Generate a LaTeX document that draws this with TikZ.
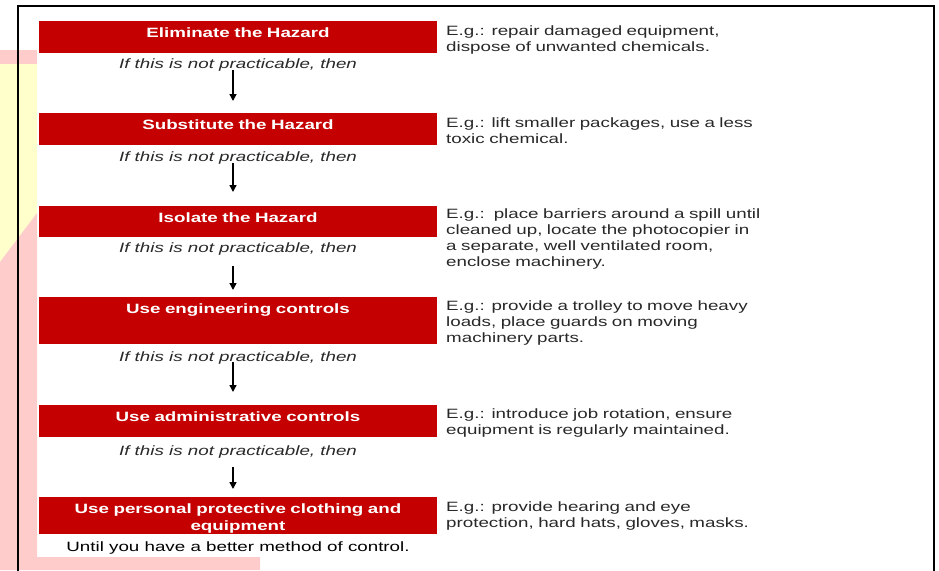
\documentclass[tikz,border=0pt]{standalone}
\usepackage{fontspec}
\setmainfont{Liberation Sans}[FakeStretch=1.39]
\usepackage{tikz}
\usetikzlibrary{arrows.meta}
\definecolor{hazred}{RGB}{196,0,0}
\definecolor{bgpink}{RGB}{255,204,204}
\definecolor{bgyellow}{RGB}{255,255,204}
\definecolor{txtgrey}{RGB}{40,40,40}
\newcommand{\ctrlfont}{\fontsize{13.5}{16}\selectfont}
\begin{document}
\begin{tikzpicture}[x=1pt,y=-1pt,
    hazbox/.style={fill=hazred, text=white, font=\ctrlfont\bfseries, text width=398pt,
      align=center, inner sep=0pt, text height=16pt, anchor=north},
    note/.style={font=\ctrlfont\itshape, text=txtgrey, inner sep=0pt, anchor=base},
    example/.style={font=\ctrlfont, text=txtgrey, text width=340pt, align=left,
      inner sep=0pt, anchor=base west},
    flow/.style={line width=1.4pt, -{Triangle[length=7pt,width=7pt]}}]
			\useasboundingbox (0,0) rectangle (939,570);
			\fill[bgpink] (0,50) rectangle (37,64);
			\fill[bgyellow] (0,64)--(37,64)--(37,213)--(0,262)--cycle;
			\fill[bgpink] (0,262)--(37,213)--(37,557)--(260,557)--(260,570)--(0,570)--cycle;
			\draw[line width=2.5pt] (18,575)--(18,6)--(934,6)--(934,575);
			\node[hazbox, text depth=16pt] (elim) at (238,21) {Eliminate the Hazard};
			\node[hazbox, text depth=16pt] (subst) at (238,113) {Substitute the Hazard};
			\node[hazbox, text depth=15pt] (isol) at (238,206) {Isolate the Hazard};
			\node[hazbox, text depth=31pt] (engin) at (238,297) {Use engineering controls};
			\node[hazbox, text depth=16pt] (admin) at (238,405) {Use administrative controls};
			\node[hazbox, text depth=21pt] (ppe) at (238,497) {Use personal protective clothing and\\[1pt] equipment};
			\node[note] (elimno) at (238,68) {If this is not practicable, then};
			\node[note] (substno) at (238,161) {If this is not practicable, then};
			\node[note] (isolno) at (238,252) {If this is not practicable, then};
			\node[note] (enginno) at (238,361) {If this is not practicable, then};
			\node[note] (adminno) at (238,455) {If this is not practicable, then};
			\node[note, font=\ctrlfont, text=black] (until) at (238,551) {Until you have a better method of control.};
			\draw[flow] ([xshift=-5pt,yshift=1pt]elimno.south)--([xshift=-5pt,yshift=12pt]subst.north);
			\draw[flow] ([xshift=-5pt,yshift=1pt]substno.south)--([xshift=-5pt,yshift=14pt]isol.north);
			\draw[flow] ([xshift=-5pt,yshift=-11pt]isolno.south)--([xshift=-5pt,yshift=7pt]engin.north);
			\draw[flow] ([xshift=-5pt,yshift=2pt]enginno.south)--([xshift=-5pt,yshift=13pt]admin.north);
			\draw[flow] ([xshift=-5pt,yshift=-9pt]adminno.south)--([xshift=-5pt,yshift=8pt]ppe.north);
			\node[example] (elimeg) at (446,35) {E.g.: repair damaged equipment,\\ dispose of unwanted chemicals.};
			\node[example] (substeg) at (446,127) {E.g.: lift smaller packages, use a less\\ toxic chemical.};
			\node[example] (isoleg) at (446,218) {E.g.:\ \ place barriers around a spill until\\ cleaned up, locate the photocopier in\\ a separate, well ventilated room,\\ enclose machinery.};
			\node[example] (engineg) at (446,310) {E.g.: provide a trolley to move heavy\\ loads, place guards on moving\\ machinery parts.};
			\node[example] (admineg) at (446,418) {E.g.: introduce job rotation, ensure\\ equipment is regularly maintained.};
			\node[example] (ppeeg) at (446,511) {E.g.: provide hearing and eye\\ protection, hard hats, gloves, masks.};
		\end{tikzpicture}
\end{document}
